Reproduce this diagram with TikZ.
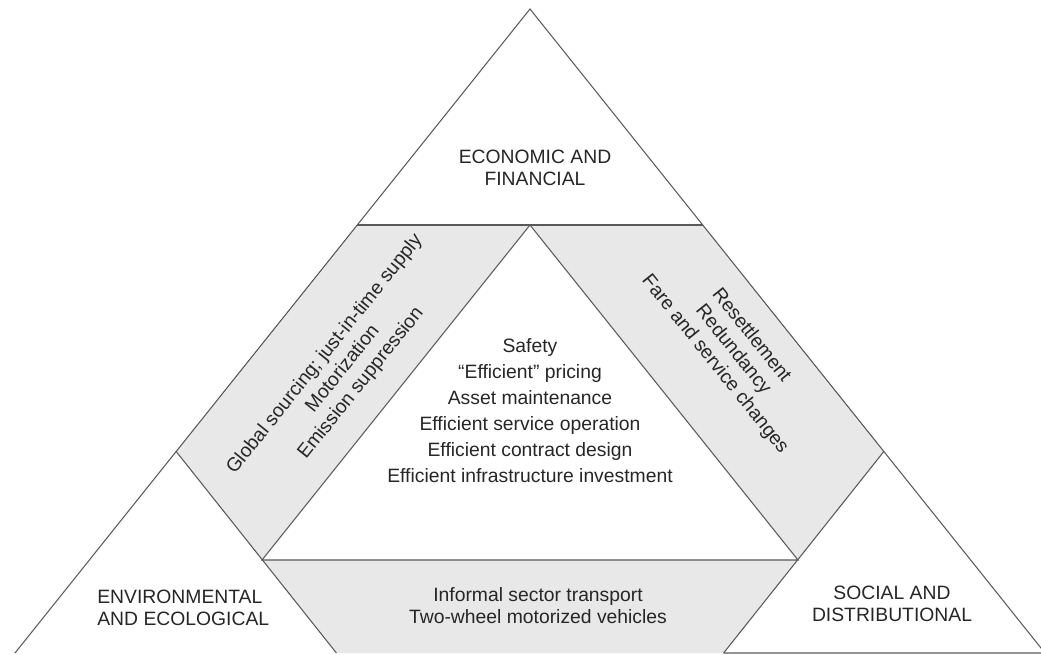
\documentclass[tikz,border=0pt]{standalone}
\usepackage{fontspec}
\setmainfont{Liberation Sans}
\tikzset{
  >=latex,
  {band/.style} ={fill=black!9},
  {edge line/.style} ={draw=black!65,line width=0.6pt},
  {area text/.style} ={text=black!85,inner sep=0,font=\fontsize{11}{12.5}\selectfont},
  {corner text/.style} ={area text,align=center},
  {slant text/.style} ={area text,align=center,font=\fontsize{11}{13.2}\selectfont},
  {list text/.style} ={area text,align=center,font=\fontsize{11}{14.8}\selectfont},
}

\begin{document}
\begin{tikzpicture}[x=0.02cm,y=-0.02cm]
    \clip (0,0) rectangle (1041,655);
    % corners of the big triangle and its cuts
    \coordinate (apex) at (530,9);
    \coordinate (bl) at (15,653);
    \coordinate (br) at (1045,653);
    \coordinate (tl) at (357.2,225);
    \coordinate (tr) at (702.8,225);
    \coordinate (top) at (530,225);
    \coordinate (il) at (262,560);
    \coordinate (ir) at (798,560);
    \coordinate (cl) at (176.1,451.4);
    \coordinate (cr) at (883.9,451.4);
    \coordinate (fl) at (336.4,653);
    \coordinate (fr) at (723.6,653);
    % shaded bands
    \fill[band] (tl) -- (top) -- (il) -- (cl) -- cycle;
    \fill[band] (top) -- (tr) -- (cr) -- (ir) -- cycle;
    \fill[band] (il) -- (ir) -- (fr) -- (fl) -- cycle;
    % lines
    \draw[edge line] (bl) -- (apex) -- (br) -- (fr);
    \draw[edge line] (tl) -- (tr);
    \draw[edge line] (il) -- (top) -- (ir) -- cycle;
    \draw[edge line] (cl) -- (fl);
    \draw[edge line] (cr) -- (fr);
    % texts
    \node[corner text] (econ) at (535,168) {ECONOMIC AND\\ FINANCIAL};
    \node[corner text,align=left,anchor=west] (env) at (97,608) {ENVIRONMENTAL\\ AND ECOLOGICAL};
    \node[corner text] (soc) at (892,604) {SOCIAL AND\\ DISTRIBUTIONAL};
    \node[list text] (core) at (530,411) {Safety\\ ``Efficient'' pricing\\
      Asset maintenance\\ Efficient service operation\\
      Efficient contract design\\ Efficient infrastructure investment};
    \node[slant text,rotate=51.3] (lband) at (343,369) {Global sourcing; just-in-time supply\\
      Motorization\\ Emission suppression};
    \node[slant text,rotate=-51.3] (rband) at (733,350) {Resettlement\\ Redundancy\\
      Fare and service changes};
    \node[corner text] (bband) at (538,606) {Informal sector transport\\
      Two-wheel motorized vehicles};
\end{tikzpicture}
\end{document}
